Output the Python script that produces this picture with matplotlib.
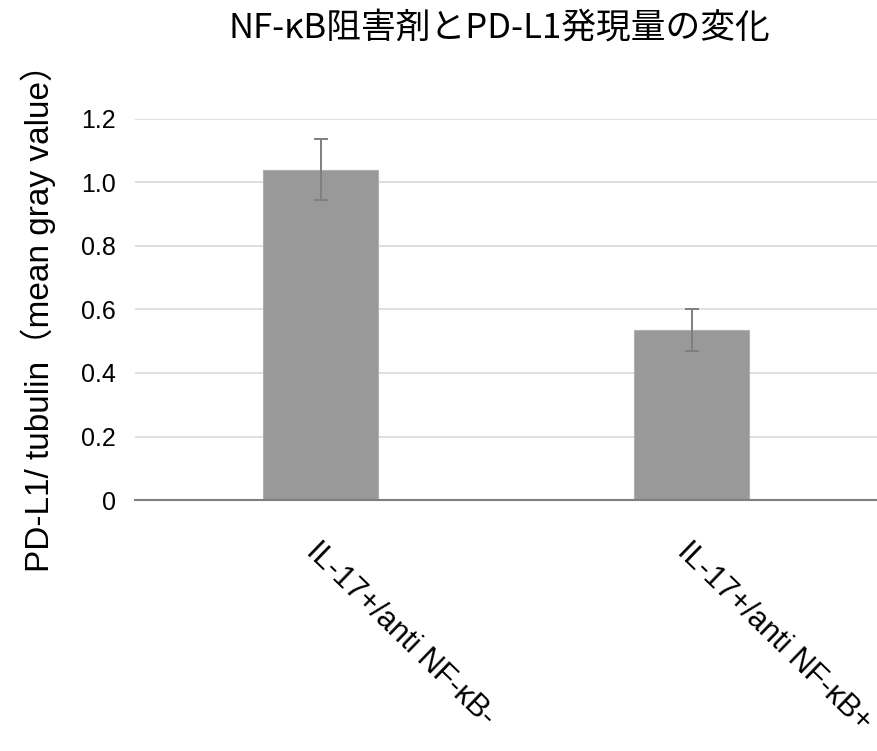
import matplotlib
matplotlib.use('Agg')
import matplotlib.pyplot as plt

categories = ['IL-17+/anti NF-κB-', 'IL-17+/anti NF-κB+']
means = [1.04, 0.535]
errors = [0.095, 0.066]
yticks = [0, 0.2, 0.4, 0.6, 0.8, 1.0, 1.2]
ytick_labels = ['0', '0.2', '0.4', '0.6', '0.8', '1.0', '1.2']

latin = ['Liberation Sans', 'Noto Sans CJK JP', 'DejaVu Sans']
plt.rcParams['font.family'] = latin

fig = plt.figure(figsize=(8.77, 7.51), dpi=100)
ax = fig.add_axes([0.154, 0.334, 0.846, 0.508])

x = range(len(categories))
ax.bar(x, means, width=0.31, color='#999999', edgecolor='#b0b0b0', linewidth=0.8, zorder=2)
ax.errorbar(x, means, yerr=errors, fmt='none', ecolor='#7f7f7f', elinewidth=1.4,
            capsize=5, capthick=1.4, zorder=3)

ax.set_xlim(-0.5, 1.5)
ax.set_ylim(0, 1.2)
ax.set_yticks(yticks)
ax.set_yticklabels(ytick_labels, fontsize=18)
ax.yaxis.grid(True, color='#d9d9d9', linewidth=1.2, zorder=0)
ax.set_axisbelow(True)

for side in ['top', 'right', 'left']:
    ax.spines[side].set_visible(False)
ax.spines['bottom'].set_color('#7f7f7f')
ax.spines['bottom'].set_linewidth(1.5)
ax.tick_params(axis='y', length=0, pad=14)
ax.tick_params(axis='x', length=0, pad=26)

ax.set_xticks(list(x))
ax.set_xticklabels(categories, fontsize=22, rotation=-44, ha='left', va='top',
                   rotation_mode='anchor')

ax.set_ylabel('PD-L1/ tubulin（mean gray value）', fontsize=24, labelpad=18)

fig.text(0.569, 0.962, 'NF-κB阻害剤とPD-L1発現量の変化', fontsize=25,
         family=['Noto Sans CJK JP', 'DejaVu Sans'], ha='center', va='center')

fig.savefig('out.png', dpi=100)
